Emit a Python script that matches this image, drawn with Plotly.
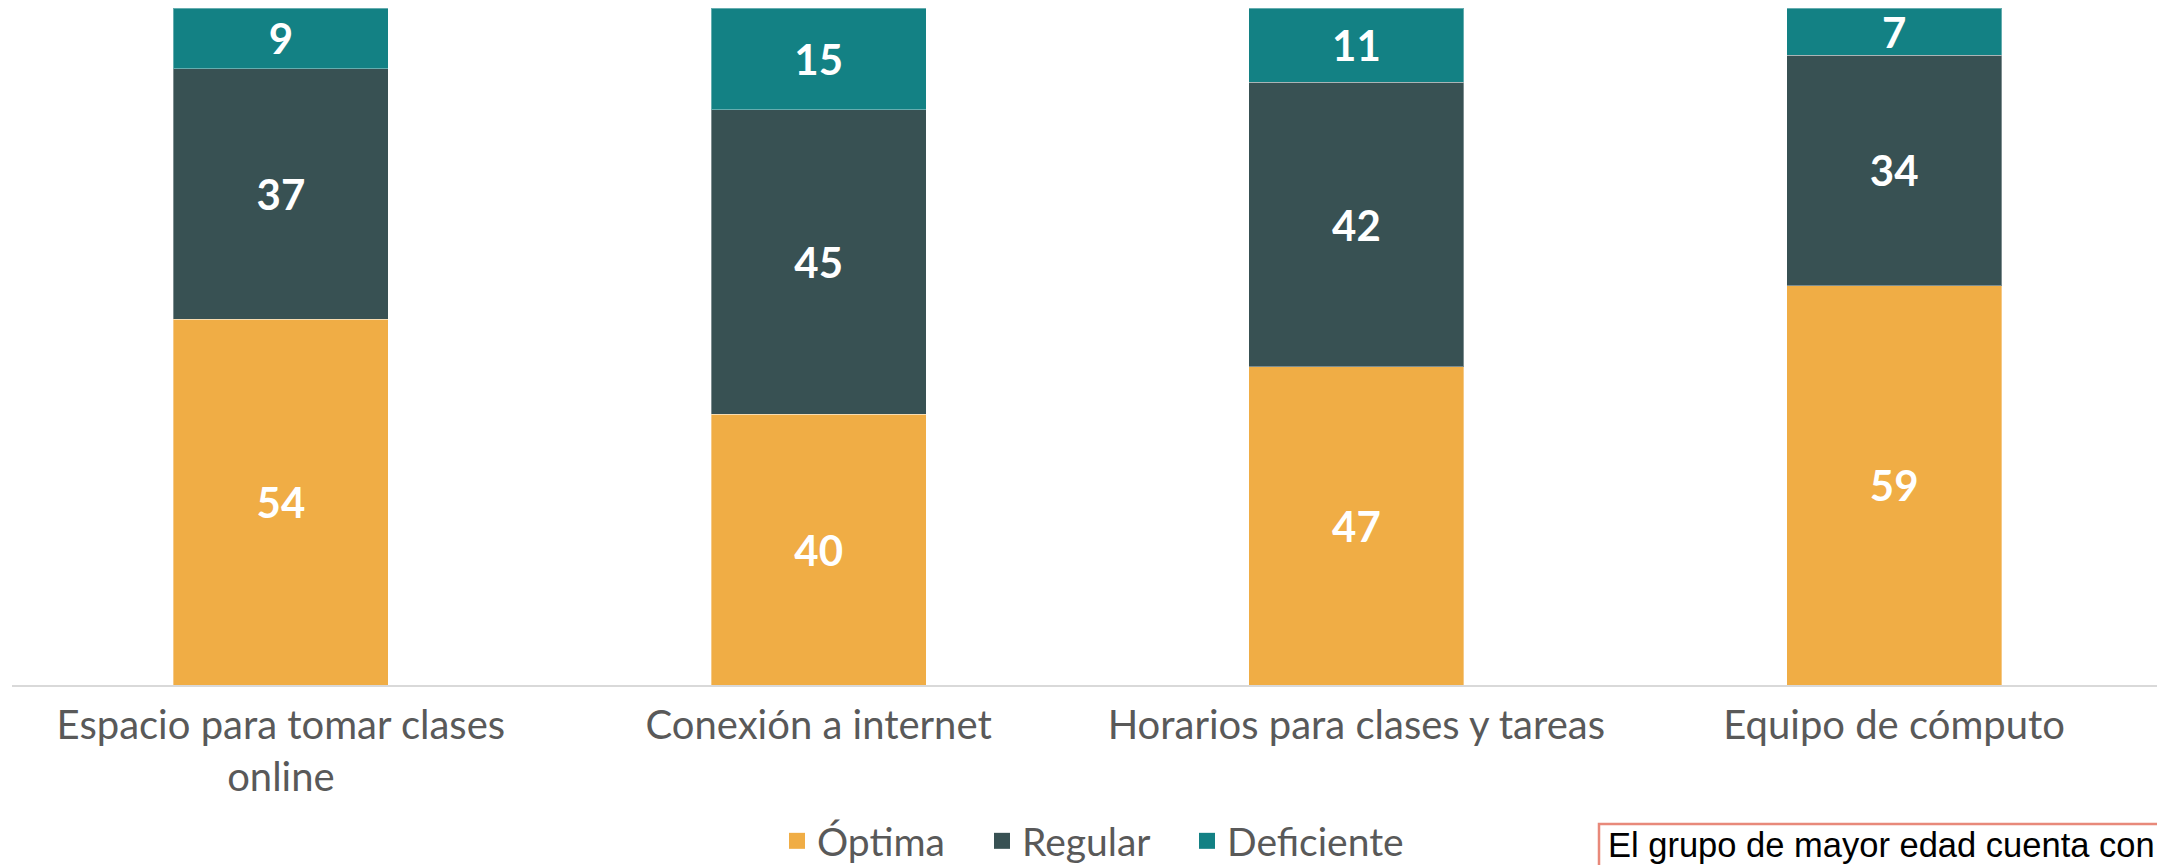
import plotly.graph_objects as go

categories = ["Espacio para tomar clases<br>online", "Conexión a internet",
              "Horarios para clases y tareas", "Equipo de cómputo"]
optima = [54, 40, 47, 59]
regular = [37, 45, 42, 34]
deficiente = [9, 15, 11, 7]

series = [("Óptima", optima, "#F0AD45"),
          ("Regular", regular, "#385153"),
          ("Deficiente", deficiente, "#138184")]

W, H = 2165, 865
ml, mr, mt, mb = 4, 10, 0, 188

fig = go.Figure()
for name, vals, col in series:
    fig.add_trace(go.Bar(
        x=categories, y=vals, name=name, showlegend=False,
        marker=dict(color=col, line=dict(color="rgba(255,255,255,0.35)", width=1)),
        text=[str(v) for v in vals], textposition="inside", insidetextanchor="middle",
        textangle=0,
        textfont=dict(family="Lato", size=42, color="white", weight="bold"),
    ))
# legend entries with larger square symbols
for name, vals, col in series:
    fig.add_trace(go.Scatter(
        x=[None], y=[None], mode="markers", name=name,
        marker=dict(symbol="square", size=16, color=col),
    ))
# invisible spacer entry so the last legend label is not clipped
fig.add_trace(go.Scatter(x=[None], y=[None], mode="markers", name=" ",
                         marker=dict(color="rgba(0,0,0,0)"), hoverinfo="skip"))

def px_to_paper_x(px):
    return (px - ml) / (W - ml - mr)

def px_to_paper_y(py):
    return (H - mb - py) / (H - mt - mb)

fig.update_layout(
    width=W, height=H, barmode="stack", bargap=0.6,
    margin=dict(l=ml, r=mr, t=mt, b=mb, autoexpand=False),
    plot_bgcolor="white", paper_bgcolor="white",
    font=dict(family="Lato", color="#595959"),
    legend=dict(orientation="h", x=px_to_paper_x(769), xanchor="left",
                y=-0.2304, yanchor="middle",
                font=dict(size=39, color="#595959"), itemwidth=30,
                entrywidth=160, entrywidthmode="pixels",
                traceorder="normal"),
    uniformtext=dict(minsize=42, mode="show"),
)
fig.update_xaxes(showline=True, linecolor="#D9D9D9", linewidth=2,
                 tickfont=dict(size=40, color="#595959"), ticks="",
                 ticklabelstandoff=4)
fig.update_yaxes(range=[0, 100], visible=False, showgrid=False)

# text box at bottom right (partially cut off)
fig.add_shape(type="rect", xref="paper", yref="paper",
              x0=px_to_paper_x(1591), x1=px_to_paper_x(2200),
              y0=px_to_paper_y(816), y1=px_to_paper_y(920),
              line=dict(color="#E8897A", width=2.5), fillcolor="white", layer="above")
fig.add_annotation(xref="paper", yref="paper",
                   x=px_to_paper_x(1598), y=px_to_paper_y(816),
                   xanchor="left", yanchor="top", showarrow=False,
                   text="El grupo de mayor edad cuenta con",
                   font=dict(family="Liberation Sans", size=34.5, color="#000000"))

fig.write_html("out.html")
